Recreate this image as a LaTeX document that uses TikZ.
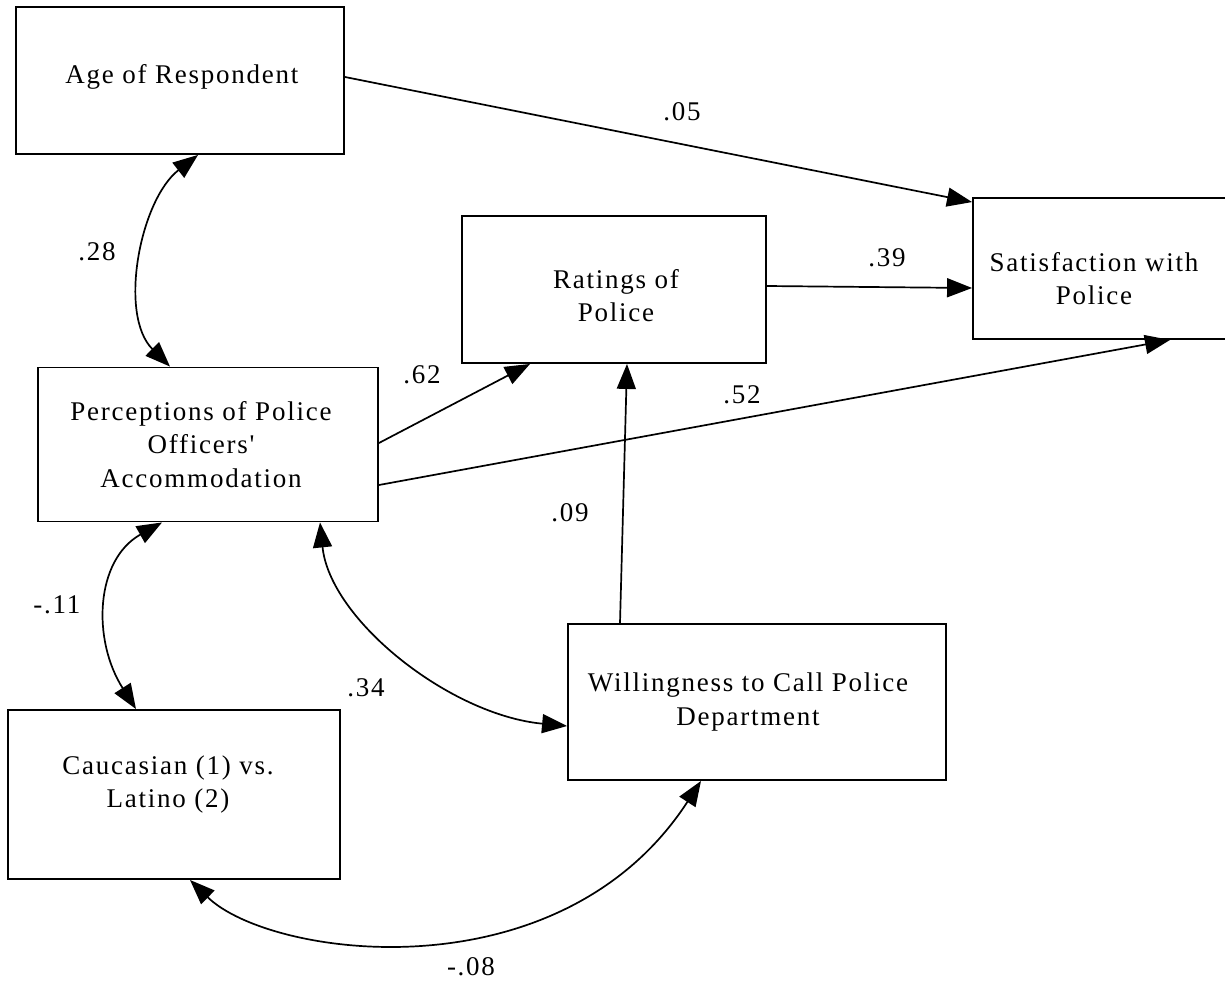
\documentclass[tikz,border=0pt]{standalone}
\usepackage{fontspec}
\setmainfont{Liberation Serif}
\newfontfamily\dfont[LetterSpace=6.5]{Liberation Serif}
\usetikzlibrary{arrows.meta}
\begin{document}
\begin{tikzpicture}[x=1pt,y=-1pt,
  box/.style={draw, line width=1.9pt, inner sep=0pt},
  txt/.style={font=\dfont\fontsize{27}{33.5}\selectfont, align=center, inner sep=0pt},
  lab/.style={font=\dfont\fontsize{27}{33.5}\selectfont, inner sep=0pt},
  reg/.style={line width=1.7pt, -{Triangle[length=25pt,width=19pt]}},
  cov/.style={line width=1.7pt, {Triangle[length=25pt,width=19pt]}-{Triangle[length=25pt,width=19pt]}}]
\useasboundingbox (0,0) rectangle (1225,982);

\node[box, minimum width=328pt, minimum height=147pt,
  label={[txt,xshift=2pt,yshift=3.7pt]center:Age of Respondent}] (age) at (180,80.5) {};
\node[box, minimum width=304pt, minimum height=147pt,
  label={[txt,xshift=2pt,yshift=-6pt]center:{Ratings of\\Police}}] (rat) at (614,289.5) {};
\node[box, minimum width=255pt, minimum height=141pt,
  label={[txt,xshift=-6.5pt,yshift=-10pt]center:{Satisfaction with\\Police}}] (sat) at (1100.5,268.5) {};
\node[box, minimum width=340pt, minimum height=154pt,
  label={[txt,xshift=-7pt]center:{Perceptions of Police\\Officers'\\Accommodation}}] (perc) at (208,444.5) {};
\node[box, minimum width=332pt, minimum height=169pt,
  label={[txt,xshift=-6pt,yshift=10pt]center:{Caucasian (1) vs.\\Latino (2)}}] (cau) at (174,794.5) {};
\node[box, minimum width=378pt, minimum height=156pt,
  label={[txt,xshift=-9pt]center:{Willingness to Call Police\\Department}}] (wil) at (757,702) {};

% directed paths
\draw[reg] ([yshift=3.5pt]age.east) -- ([yshift=-5pt]sat.north west);
\draw[reg] ([yshift=3.5pt]rat.east) -- ([yshift=-19.5pt]sat.west);
\draw[reg] ([yshift=1.5pt]perc.east) -- ([xshift=-84pt]rat.south);
\draw[reg] ([yshift=-40.5pt]perc.east) -- ([xshift=69.5pt]sat.south);
\draw[reg] ([xshift=-137pt]wil.north) -- ([xshift=13pt]rat.south);

% covariances
\draw[cov] ([xshift=18pt]age.south) .. controls (140,200) and (118,315) .. ([xshift=-38pt]perc.north);
\draw[cov] ([xshift=-46pt]perc.south) .. controls (95,560) and (92,640) .. ([xshift=-38pt]cau.north);
\draw[cov] ([xshift=112pt]perc.south) .. controls (330,620) and (450,715) .. ([yshift=-24pt]wil.west);
\draw[cov] ([xshift=16pt]cau.south) .. controls (270,958) and (560,998) .. ([xshift=-56pt]wil.south);

% coefficients
\node[lab] (l05) at (682,112) {.05};
\node[lab] (l39) at (887,258) {.39};
\node[lab] (l28) at (97,252) {.28};
\node[lab] (l62) at (422,375) {.62};
\node[lab] (l52) at (742,395) {.52};
\node[lab] (l09) at (570,513) {.09};
\node[lab] (l11) at (57,605) {-.11};
\node[lab] (l34) at (366,688) {.34};
\node[lab] (l08) at (471,967) {-.08};
\end{tikzpicture}
\end{document}
